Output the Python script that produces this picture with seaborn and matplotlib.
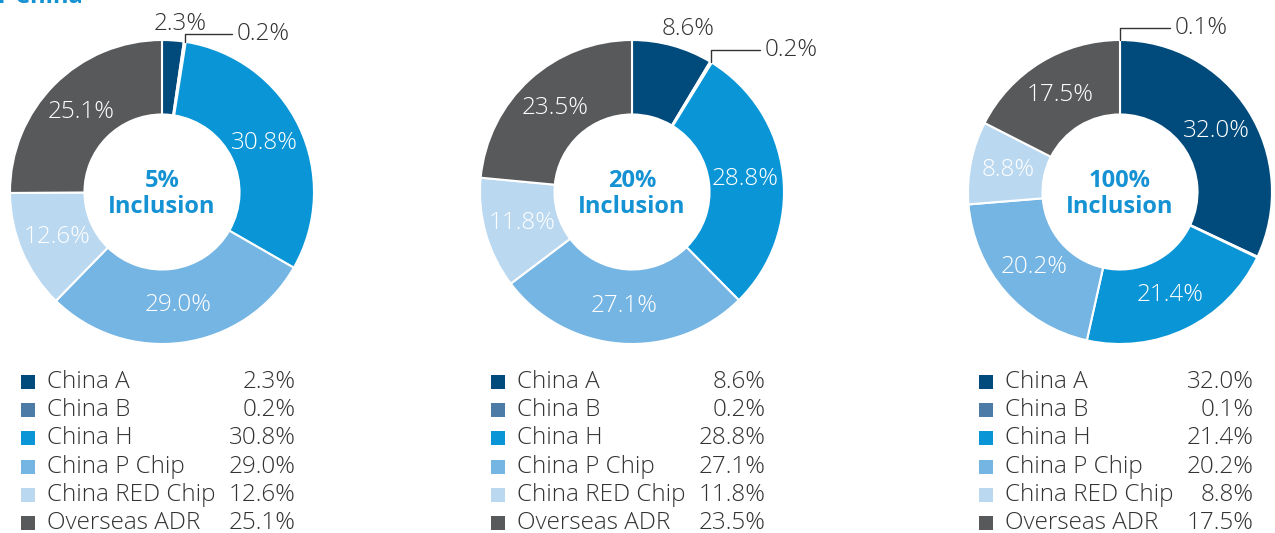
import matplotlib
matplotlib.use("Agg")
import matplotlib.pyplot as plt
from matplotlib.patches import Rectangle
import numpy as np
import seaborn as sns

# data
categories = ["China A", "China B", "China H", "China P Chip", "China RED Chip", "Overseas ADR"]
share_5 = [2.3, 0.2, 30.8, 29.0, 12.6, 25.1]
share_20 = [8.6, 0.2, 28.8, 27.1, 11.8, 23.5]
share_100 = [32.0, 0.1, 21.4, 20.2, 8.8, 17.5]
inclusion_labels = ["5%", "20%", "100%"]

colors = ["#004a7c", "#4b7ba6", "#0995d6", "#75b5e3", "#bad8f0", "#58595b"]

sns.set_theme(style="white")
plt.rcParams["font.family"] = ["Open Sans", "DejaVu Sans"]
palette = sns.color_palette(colors)

W, H = 1275, 533
TXT = "#333333"
BLUE = "#1592d3"
FS = 17.5
LW = "light"

# layout (pixels / data units)
centers_px = [162, 632, 1120]
cy_px = 192
R_px = 152
outside_a = [(0.118, 1.105), (0.368, 1.075), None]       # China A label outside the ring
leader = [  # (anchor angle or None, corner y, end x, text x)
    (None, 1.04, 0.46, 0.49),
    (None, 0.934, 0.842, 0.875),
    (90.0, 1.079, 0.329, 0.362),
]

fig = plt.figure(figsize=(W / 100, H / 100), dpi=100)

# overlay axes in pixel coordinates for the legends
lax = fig.add_axes([0, 0, 1, 1])
lax.set_xlim(0, W)
lax.set_ylim(H, 0)
lax.axis("off")

fig.text(-2 / W, 1 - 3 / H, "r China", color=BLUE, fontsize=17, fontweight="bold",
         ha="left", va="baseline")

for k, values in enumerate([share_5, share_20, share_100]):
    cx = centers_px[k]
    ax = fig.add_axes([(cx - R_px) / W, (H - cy_px - R_px) / H, 2 * R_px / W, 2 * R_px / H])
    wedges, _ = ax.pie(values, colors=palette, startangle=90, counterclock=False, radius=1,
                       wedgeprops=dict(width=0.49, edgecolor="white", linewidth=1.5))
    ax.set_xlim(-1, 1)
    ax.set_ylim(-1, 1)
    ax.set_aspect("equal")
    ax.axis("off")

    for i, (w, v) in enumerate(zip(wedges, values)):
        label = f"{v:.1f}%"
        if i == 1:
            ang, cy2, ex, tx = leader[k]
            if ang is None:
                ang = (w.theta1 + w.theta2) / 2
            sx, sy = np.cos(np.radians(ang)), np.sin(np.radians(ang))
            ax.plot([sx, sx, ex], [sy, cy2, cy2], color=TXT, lw=1, clip_on=False)
            ax.text(tx, cy2, label, ha="left", va="center", color=TXT, fontsize=FS,
                    fontweight=LW, clip_on=False)
        elif i == 0 and outside_a[k] is not None:
            ox, oy = outside_a[k]
            ax.text(ox, oy, label, ha="center", va="center", color=TXT, fontsize=FS,
                    fontweight=LW, clip_on=False)
        else:
            ang = np.radians((w.theta1 + w.theta2) / 2)
            ax.text(0.75 * np.cos(ang), 0.75 * np.sin(ang), label, ha="center", va="center",
                    color="white", fontsize=FS, fontweight=LW)

    ax.text(0, -0.012, f"{inclusion_labels[k]}\nInclusion", ha="center", va="center", color=BLUE,
            fontsize=17, fontweight="bold", linespacing=1.12)

    # legend
    for i, (cat, v) in enumerate(zip(categories, values)):
        y = 382 + 28.2 * i
        lax.add_patch(Rectangle((cx - 141, y - 7), 14, 14, color=palette[i], lw=0))
        lax.text(cx - 115, y, cat, ha="left", va="center", color=TXT, fontsize=FS, fontweight=LW)
        lax.text(cx + 134, y, f"{v:.1f}%", ha="right", va="center", color=TXT, fontsize=FS,
                 fontweight=LW)

fig.savefig("out.png", dpi=100)
